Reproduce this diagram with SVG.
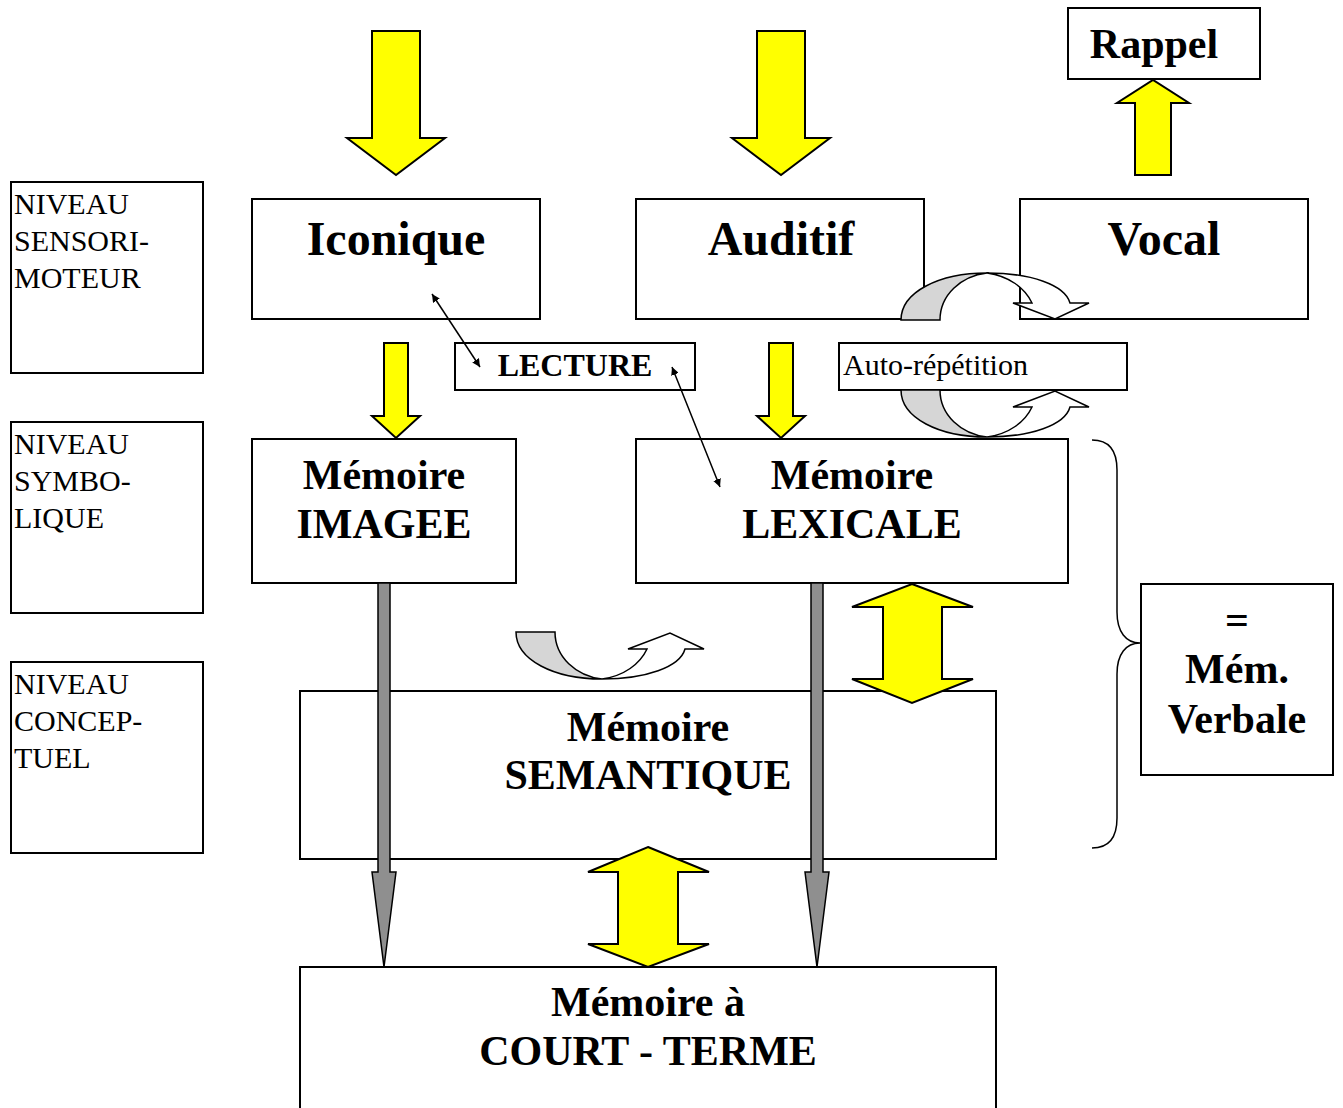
<svg xmlns="http://www.w3.org/2000/svg" xmlns:xlink="http://www.w3.org/1999/xlink" width="1343" height="1108" viewBox="0 0 1343 1108">
<style>
.box{fill:#fff;stroke:#000;stroke-width:2}
.ya{fill:#ffff00;stroke:#000;stroke-width:2;stroke-linejoin:miter}
.ga{fill:#8f8f8f;stroke:#000;stroke-width:1.5}
.lbl{font-family:"Liberation Serif","Times New Roman",serif;font-size:30px;fill:#000}
.big{font-family:"Liberation Serif","Times New Roman",serif;font-size:42px;font-weight:bold;fill:#000;text-anchor:middle}
.huge{font-family:"Liberation Serif","Times New Roman",serif;font-size:48px;font-weight:bold;fill:#000;text-anchor:middle}
.conn{stroke:#000;stroke-width:1.5;fill:none}
</style>
<defs>
<marker id="ah" viewBox="0 0 10 10" refX="10" refY="5" markerWidth="8" markerHeight="8" markerUnits="userSpaceOnUse" orient="auto-start-reverse">
<path d="M0,0 L10,5 L0,10 Z" fill="#000"/>
</marker>
<g id="uc">
<path d="M0,0 C0,28 38,47 86,47 C60,44 39,25 39,0 Z" fill="#d6d6d6" stroke="#000" stroke-width="1.5"/>
<path d="M86,47 C130,47 164,35 169,17 L188,17 L154,1 L112,17 L131,17 C124,32 108,44 86,47 Z" fill="#fff" stroke="#000" stroke-width="1.5" stroke-linejoin="miter"/>
</g>
</defs>

<g id="niveau-sensori">
<rect class="box" x="11" y="182" width="192" height="191"/>
<text class="lbl" x="14" y="214">NIVEAU</text>
<text class="lbl" x="14" y="251">SENSORI-</text>
<text class="lbl" x="14" y="288">MOTEUR</text>
</g>
<g id="niveau-symbo">
<rect class="box" x="11" y="422" width="192" height="191"/>
<text class="lbl" x="14" y="454">NIVEAU</text>
<text class="lbl" x="14" y="491">SYMBO-</text>
<text class="lbl" x="14" y="528">LIQUE</text>
</g>
<g id="niveau-concep">
<rect class="box" x="11" y="662" width="192" height="191"/>
<text class="lbl" x="14" y="694">NIVEAU</text>
<text class="lbl" x="14" y="731">CONCEP-</text>
<text class="lbl" x="14" y="768">TUEL</text>
</g>

<g id="rappel">
<rect class="box" x="1068" y="8" width="192" height="71"/>
<text class="big" x="1154" y="58">Rappel</text>
</g>
<g id="iconique">
<rect class="box" x="252" y="199" width="288" height="120"/>
<text class="huge" x="396" y="255">Iconique</text>
</g>
<g id="auditif">
<rect class="box" x="636" y="199" width="288" height="120"/>
<text class="huge" x="781" y="255">Auditif</text>
</g>
<g id="vocal">
<rect class="box" x="1020" y="199" width="288" height="120"/>
<text class="huge" x="1164" y="255">Vocal</text>
</g>
<g id="lecture">
<rect class="box" x="455" y="343" width="240" height="47"/>
<text class="big" style="font-size:32px" x="575" y="376">LECTURE</text>
</g>
<g id="auto-repetition">
<rect class="box" x="839" y="343" width="288" height="47"/>
<text class="lbl" x="843" y="375">Auto-répétition</text>
</g>
<g id="memoire-imagee">
<rect class="box" x="252" y="439" width="264" height="144"/>
<text class="big" x="384" y="489">Mémoire</text>
<text class="big" x="384" y="538">IMAGEE</text>
</g>
<g id="memoire-lexicale">
<rect class="box" x="636" y="439" width="432" height="144"/>
<text class="big" x="852" y="489">Mémoire</text>
<text class="big" x="852" y="538">LEXICALE</text>
</g>
<g id="mem-verbale">
<rect class="box" x="1141" y="584" width="192" height="191"/>
<text class="big" x="1237" y="634">=</text>
<text class="big" x="1237" y="683">Mém.</text>
<text class="big" x="1237" y="733">Verbale</text>
</g>
<g id="memoire-semantique">
<rect class="box" x="300" y="691" width="696" height="168"/>
<text class="big" x="648" y="741">Mémoire</text>
<text class="big" x="648" y="789">SEMANTIQUE</text>
</g>
<g id="memoire-court-terme">
<rect class="box" x="300" y="967" width="696" height="160"/>
<text class="big" x="648" y="1016">Mémoire à</text>
<text class="big" x="648" y="1065">COURT - TERME</text>
</g>

<g id="connectors">
<path class="ya" d="M372,31 L420,31 L420,138 L445,138 L396,175 L347,138 L372,138 Z"/>
<path class="ya" d="M757,31 L805,31 L805,138 L830,138 L781,175 L732,138 L757,138 Z"/>
<path class="ya" d="M1135,175 L1171,175 L1171,103 L1189,103 L1153,80 L1117,103 L1135,103 Z"/>
<path class="ya" d="M384,343 L408,343 L408,416 L420,416 L396,438 L372,416 L384,416 Z"/>
<path class="ya" d="M769,343 L793,343 L793,416 L805,416 L781,438 L757,416 L769,416 Z"/>
<path class="ya" d="M912,584 L973,607 L942,607 L942,679 L973,679 L912,703 L852,679 L883,679 L883,607 L852,607 Z"/>
<path class="ya" d="M648,847 L709,872 L678,872 L678,944 L709,944 L648,967 L588,944 L618,944 L618,872 L588,872 Z"/>
<path class="ga" d="M378,583 L390,583 L390,872 L396,872 L384,967 L372,872 L378,872 Z"/>
<path class="ga" d="M811,583 L823,583 L823,872 L829,872 L817,967 L805,872 L811,872 Z"/>
<line class="conn" x1="432" y1="294" x2="480" y2="367" marker-start="url(#ah)" marker-end="url(#ah)"/>
<line class="conn" x1="672" y1="367" x2="720" y2="487" marker-start="url(#ah)" marker-end="url(#ah)"/>
<use xlink:href="#uc" transform="translate(901,320) scale(1,-1)"/>
<use xlink:href="#uc" transform="translate(901,390)"/>
<use xlink:href="#uc" transform="translate(516,632)"/>
<path class="conn" d="M1092,440 C1108,440 1117,450 1117,470 L1117,612 C1117,632 1126,643 1140,643 C1126,643 1117,654 1117,674 L1117,818 C1117,838 1108,848 1092,848"/>
</g>
</svg>
